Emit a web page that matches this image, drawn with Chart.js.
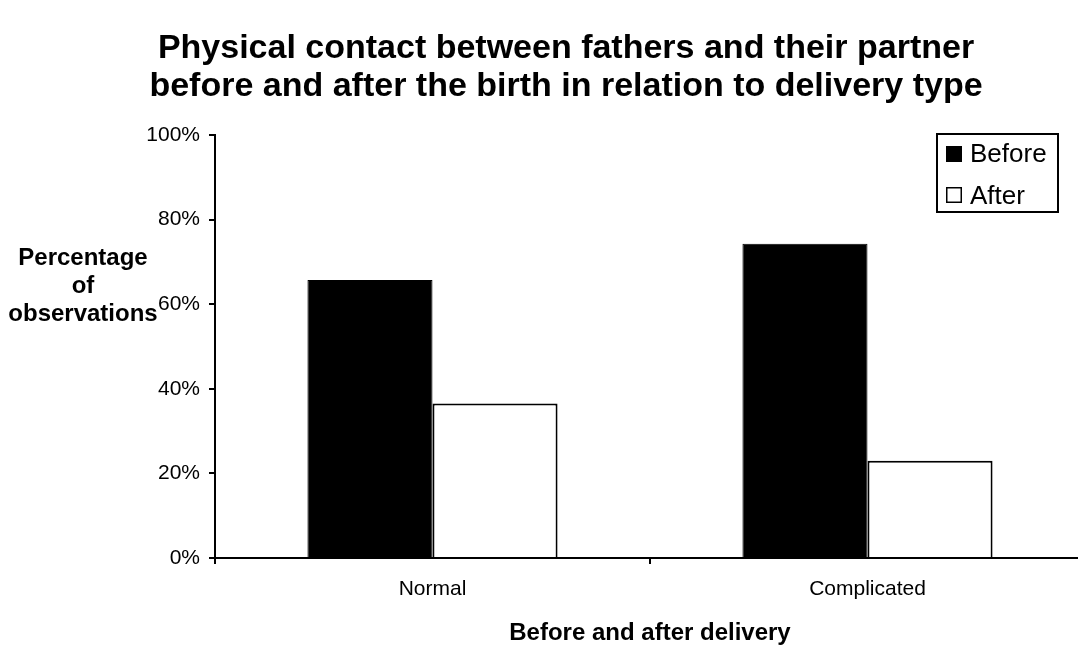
<!DOCTYPE html>
<html>
<head>
<meta charset="utf-8">
<script src="https://cdn.jsdelivr.net/npm/chart.js@4/dist/chart.umd.min.js"></script>
<style>
  html, body { margin: 0; padding: 0; background: #fff; overflow: hidden; width: 1078px; height: 646px; }
  #wrap { width: 1090px; height: 646px; }
</style>
</head>
<body>
<div id="wrap"><canvas id="chart" width="1090" height="646"></canvas></div>
<script>
// Delivery types on the category axis
const categories = ['Normal', 'Complicated'];
// Percentage of observations with physical contact
const beforeValues = [65.7, 74.3];
const afterValues = [36.5, 23.0];
const seriesNames = ['Before', 'After'];
const titleLines = [
  'Physical contact between fathers and their partner',
  'before and after the birth in relation to delivery type'
];
const yTitleLines = ['Percentage', 'of', 'observations'];
const xTitle = 'Before and after delivery';

const FONT = '"Liberation Sans", Arial, sans-serif';

// Title, horizontal y-axis caption and the boxed legend inside the plot
const annotations = {
  id: 'annotations',
  afterDraw(chart) {
    const ctx = chart.ctx;
    ctx.save();
    ctx.fillStyle = '#000';
    ctx.textBaseline = 'alphabetic';

    ctx.font = 'bold 34px ' + FONT;
    ctx.textAlign = 'center';
    ctx.fillText(titleLines[0], 566, 58);
    ctx.fillText(titleLines[1], 566, 96);

    ctx.font = 'bold 24px ' + FONT;
    ctx.fillText(yTitleLines[0], 83, 265);
    ctx.fillText(yTitleLines[1], 83, 293);
    ctx.fillText(yTitleLines[2], 83, 321);

    ctx.fillText(xTitle, (chart.chartArea.left + chart.chartArea.right) / 2, 640);

    // legend box
    ctx.strokeStyle = '#000';
    ctx.lineWidth = 2;
    ctx.strokeRect(937, 134, 121, 78);
    ctx.fillRect(946, 146, 16, 16);
    ctx.lineWidth = 1.5;
    ctx.strokeRect(946.75, 187.75, 14.5, 14.5);

    ctx.font = '26px ' + FONT;
    ctx.textAlign = 'left';
    ctx.fillText(seriesNames[0], 970, 162);
    ctx.fillText(seriesNames[1], 970, 204);
    ctx.restore();
  }
};

new Chart(document.getElementById('chart'), {
  type: 'bar',
  data: {
    labels: categories,
    datasets: [
      {
        label: seriesNames[0],
        data: beforeValues,
        backgroundColor: '#000',
        borderColor: '#000',
        borderWidth: 1,
        categoryPercentage: 0.575,
        barPercentage: 1
      },
      {
        label: seriesNames[1],
        data: afterValues,
        backgroundColor: '#fff',
        borderColor: '#000',
        borderWidth: 2,
        categoryPercentage: 0.575,
        barPercentage: 1
      }
    ]
  },
  options: {
    responsive: false,
    animation: false,
    devicePixelRatio: 1,
    layout: { padding: { top: 135, left: 0, right: 5, bottom: 0 } },
    plugins: {
      legend: { display: false },
      tooltip: { enabled: false },
      title: { display: false }
    },
    scales: {
      x: {
        grid: { display: true, drawOnChartArea: false, drawTicks: true, tickLength: 6, color: '#000', lineWidth: 2, offset: true },
        border: { display: true, color: '#000', width: 2 },
        ticks: { color: '#000', font: { family: FONT, size: 21 }, padding: 13 },
        afterFit(scale) { scale.height = 88; }
      },
      y: {
        min: 0,
        max: 100,
        grid: { display: true, drawOnChartArea: false, drawTicks: true, tickLength: 6, color: '#000', lineWidth: 2 },
        border: { display: true, color: '#000', width: 2 },
        ticks: {
          stepSize: 20,
          color: '#000',
          font: { family: FONT, size: 21 },
          padding: 9,
          callback: (v) => v + '%'
        },
        afterFit(scale) { scale.width = 215; }
      }
    }
  },
  plugins: [annotations]
});
</script>
</body>
</html>
